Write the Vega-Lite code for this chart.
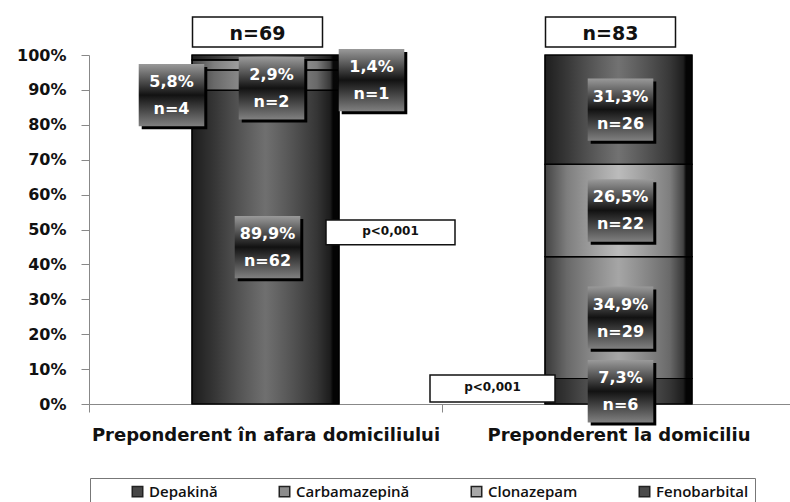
{
  "$schema": "https://vega.github.io/schema/vega-lite/v6.json",
  "width": 706,
  "height": 349,
  "autosize": {"type": "none"},
  "padding": {"left": 89, "top": 55, "right": 0, "bottom": 98},
  "background": "white",
  "config": {"view": {"stroke": null}, "font": "DejaVu Sans"},
  "resolve": {"axis": {"y": "independent"}},
  "data": {
    "values": [
      {"cat": "Preponderent în afara domiciliului", "drug": "Depakină", "ord": 1, "pct": 89.9, "n": 62},
      {"cat": "Preponderent în afara domiciliului", "drug": "Carbamazepină", "ord": 2, "pct": 5.8, "n": 4},
      {"cat": "Preponderent în afara domiciliului", "drug": "Clonazepam", "ord": 3, "pct": 2.9, "n": 2},
      {"cat": "Preponderent în afara domiciliului", "drug": "Fenobarbital", "ord": 4, "pct": 1.4, "n": 1},
      {"cat": "Preponderent la domiciliu", "drug": "Depakină", "ord": 1, "pct": 7.3, "n": 6},
      {"cat": "Preponderent la domiciliu", "drug": "Carbamazepină", "ord": 2, "pct": 34.9, "n": 29},
      {"cat": "Preponderent la domiciliu", "drug": "Clonazepam", "ord": 3, "pct": 26.5, "n": 22},
      {"cat": "Preponderent la domiciliu", "drug": "Fenobarbital", "ord": 4, "pct": 31.3, "n": 26}
    ]
  },
  "transform": [
    {"stack": "pct", "groupby": ["cat"], "sort": [{"field": "ord", "order": "ascending"}], "as": ["y0", "y1"]},
    {"calculate": "(datum.y0 + datum.y1) / 2", "as": "mid"},
    {"calculate": "replace(format(datum.pct, '.1f'), '.', ',') + '%|' + 'n=' + datum.n", "as": "lab"},
    {"calculate": "datum.cat == 'Preponderent în afara domiciliului' && datum.drug == 'Carbamazepină' ? 88.5 : datum.cat == 'Preponderent în afara domiciliului' && datum.drug == 'Clonazepam' ? 90.5 : datum.cat == 'Preponderent în afara domiciliului' && datum.drug == 'Fenobarbital' ? 92.8 : datum.mid", "as": "ly"},
    {"calculate": "176.5 + (datum.cat == 'Preponderent în afara domiciliului' && datum.drug == 'Carbamazepină' ? -94 : datum.cat == 'Preponderent în afara domiciliului' && datum.drug == 'Clonazepam' ? 6 : datum.cat == 'Preponderent în afara domiciliului' && datum.drug == 'Fenobarbital' ? 106 : 2)", "as": "lx"},
    {"calculate": "datum.lx + 3", "as": "lx3"}
  ],
  "encoding": {
    "x": {
      "field": "cat",
      "type": "nominal",
      "sort": null,
      "scale": {"paddingInner": 0, "paddingOuter": 0},
      "axis": {
        "title": null,
        "labelAngle": 0,
        "labelFont": "DejaVu Sans",
        "labelFontWeight": "bold",
        "labelFontSize": 18,
        "labelColor": "#111",
        "labelPadding": 14,
        "labelLimit": 400,
        "tickBand": "extent",
        "tickSize": 8,
        "tickColor": "#888",
        "domainColor": "#888"
      }
    }
  },
  "layer": [
    {
      "mark": {"type": "bar", "width": 147, "stroke": "#111", "strokeWidth": 1.2},
      "encoding": {
        "y": {
          "field": "y0",
          "type": "quantitative",
          "scale": {"domain": [0, 100], "nice": false},
          "axis": {
            "title": null,
            "grid": false,
            "values": [0, 10, 20, 30, 40, 50, 60, 70, 80, 90, 100],
            "labelOverlap": false,
            "labelExpr": "datum.value + '%'",
            "labelFont": "DejaVu Sans",
            "labelFontWeight": "bold",
            "labelFontSize": 16,
            "labelColor": "#111",
            "labelPadding": 15,
            "tickSize": 8,
            "tickColor": "#888",
            "domainColor": "#888"
          }
        },
        "y2": {"field": "y1"},
        "color": {
          "field": "drug",
          "type": "nominal",
          "scale": {
            "domain": ["Depakină", "Carbamazepină", "Clonazepam", "Fenobarbital"],
            "range": ["#474747", "#8c8c8c", "#a8a8a8", "#4a4a4a"]
          },
          "legend": {
            "orient": "none",
            "legendX": 1,
            "legendY": 423,
            "direction": "horizontal",
            "title": " ",
            "titleOrient": "left",
            "titlePadding": 34,
            "strokeColor": "#777",
            "fillColor": "white",
            "padding": 6,
            "symbolType": "square",
            "symbolSize": 110,
            "symbolStrokeColor": "#222",
            "symbolStrokeWidth": 1.5,
            "labelFont": "Open Sans",
            "labelFontSize": 15,
            "labelFontWeight": 600,
            "labelColor": "#111",
            "labelOffset": 4,
            "columnPadding": 58
          }
        }
      }
    },
    {
      "mark": {
        "type": "bar",
        "width": 147,
        "stroke": "#000",
        "strokeWidth": 1.2,
        "fill": {
          "gradient": "linear",
          "x1": 0, "y1": 0, "x2": 1, "y2": 0,
          "stops": [
            {"offset": 0, "color": "rgba(0,0,0,0.6)"},
            {"offset": 0.15, "color": "rgba(0,0,0,0.25)"},
            {"offset": 0.5, "color": "rgba(255,255,255,0.22)"},
            {"offset": 0.85, "color": "rgba(0,0,0,0.25)"},
            {"offset": 0.94, "color": "rgba(0,0,0,0.6)"},
            {"offset": 0.96, "color": "rgba(0,0,0,0.95)"},
            {"offset": 1, "color": "rgba(0,0,0,0.95)"}
          ]
        }
      },
      "encoding": {
        "y": {"field": "y0", "type": "quantitative", "axis": null},
        "y2": {"field": "y1"}
      }
    },
    {
      "mark": {"type": "point", "shape": "M-1.05,-1H1.05V1H-1.05Z", "size": 3900, "filled": true, "color": "#000", "opacity": 1, "yOffset": 3},
      "encoding": {
        "y": {"field": "ly", "type": "quantitative", "axis": null},
        "xOffset": {"field": "lx3", "type": "quantitative", "scale": null}
      }
    },
    {
      "mark": {
        "type": "point",
        "shape": "M-1.05,-1H1.05V1H-1.05Z",
        "size": 3900,
        "filled": true,
        "opacity": 1,
        "strokeWidth": 0,
        "fill": {
          "gradient": "linear",
          "x1": 0, "y1": 0, "x2": 0, "y2": 1,
          "stops": [
            {"offset": 0, "color": "#9a9a9a"},
            {"offset": 0.5, "color": "#121212"},
            {"offset": 1, "color": "#808080"}
          ]
        }
      },
      "encoding": {
        "y": {"field": "ly", "type": "quantitative", "axis": null},
        "xOffset": {"field": "lx", "type": "quantitative", "scale": null}
      }
    },
    {
      "mark": {"type": "text", "color": "white", "font": "DejaVu Sans", "fontWeight": "bold", "fontSize": 16, "lineBreak": "|", "lineHeight": 27, "baseline": "middle", "dy": -13},
      "encoding": {
        "y": {"field": "ly", "type": "quantitative", "axis": null},
        "xOffset": {"field": "lx", "type": "quantitative", "scale": null},
        "text": {"field": "lab", "type": "nominal"}
      }
    },
    {
      "transform": [
        {"aggregate": [{"op": "sum", "field": "n", "as": "total"}], "groupby": ["cat"]},
        {"calculate": "'n=' + datum.total", "as": "nlab"}
      ],
      "layer": [
        {
          "mark": {"type": "bar", "width": 130, "fill": "white", "stroke": "#111", "strokeWidth": 1.5, "xOffset": -8},
          "encoding": {"y": {"datum": 110.9, "axis": null}, "y2": {"datum": 102.3}}
        },
        {
          "mark": {"type": "text", "font": "DejaVu Sans", "fontSize": 19, "fontWeight": "bold", "color": "#111", "xOffset": -8, "baseline": "middle"},
          "encoding": {"y": {"datum": 106.0, "axis": null}, "text": {"field": "nlab", "type": "nominal"}}
        }
      ]
    },
    {
      "transform": [
        {"aggregate": [{"op": "count", "as": "k"}], "groupby": ["cat"]},
        {"filter": "datum.cat == 'Preponderent în afara domiciliului'"}
      ],
      "layer": [
        {
          "mark": {"type": "bar", "width": 129, "fill": "white", "stroke": "#111", "strokeWidth": 1.5, "xOffset": 125},
          "encoding": {"y": {"datum": 52.7, "axis": null}, "y2": {"datum": 45.6}}
        },
        {
          "mark": {"type": "text", "font": "DejaVu Sans", "fontSize": 12, "fontWeight": "bold", "color": "#111", "xOffset": 125, "baseline": "middle"},
          "encoding": {"y": {"datum": 49.6, "axis": null}, "text": {"value": "p<0,001"}}
        }
      ]
    },
    {
      "transform": [
        {"aggregate": [{"op": "count", "as": "k"}], "groupby": ["cat"]},
        {"filter": "datum.cat == 'Preponderent la domiciliu'"}
      ],
      "layer": [
        {
          "mark": {"type": "bar", "width": 125, "fill": "white", "stroke": "#111", "strokeWidth": 1.5, "xOffset": -126},
          "encoding": {"y": {"datum": 8.3, "axis": null}, "y2": {"datum": 0.6}}
        },
        {
          "mark": {"type": "text", "font": "DejaVu Sans", "fontSize": 12, "fontWeight": "bold", "color": "#111", "xOffset": -126, "baseline": "middle"},
          "encoding": {"y": {"datum": 4.8, "axis": null}, "text": {"value": "p<0,001"}}
        }
      ]
    }
  ]
}
